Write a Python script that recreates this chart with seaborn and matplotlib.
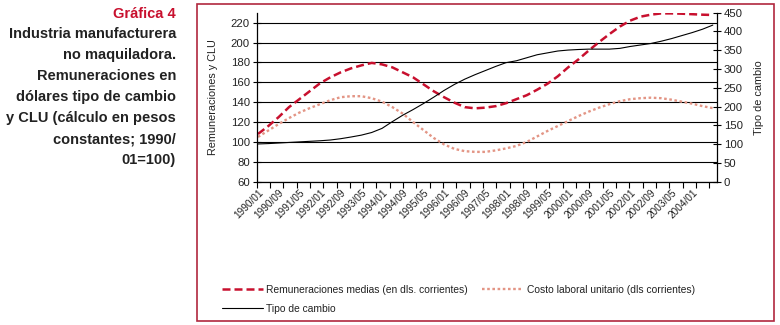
import numpy as np
import pandas as pd
import matplotlib
matplotlib.use("Agg")
import matplotlib.pyplot as plt
import seaborn as sns
from matplotlib.patches import Rectangle
from matplotlib.lines import Line2D

sns.set_theme(style="white")
plt.rcParams["font.family"] = ["Liberation Sans", "DejaVu Sans"]

# ---- data (every 4 months, 1990/01 .. 2004/09) ----
periodos = pd.period_range("1990-01", periods=45, freq="4M")
remuneraciones = [108, 116, 125, 135, 143, 151, 159, 165, 170, 174, 177, 179.5,
                  178, 175, 170, 165, 158, 151, 145, 139.5, 135, 133.8, 134.5, 136,
                  139, 143, 147, 152.5, 158.5, 166, 175, 183, 192, 200.5, 208.5, 216,
                  222, 226, 228, 229.3, 229.3, 229, 228.5, 228, 227.7]
clu = [105, 111.5, 118, 124, 129.5, 134, 138, 142, 145, 146, 146, 144,
       140.5, 135, 128.5, 120, 112, 104, 97.5, 93, 90.7, 90, 90, 91.5,
       93.5, 96, 100, 105.5, 111, 116, 121, 126, 130.5, 134.5, 138, 141,
       143, 144, 144.5, 144, 142.5, 140.5, 138.5, 136, 134]
tipo_cambio = [100.5, 101.5, 103, 104.5, 106, 107.5, 109, 111, 114.5, 119, 124, 131,
               142, 160, 177, 192, 208, 225, 243, 259, 273, 285, 296, 307,
               317, 322, 330, 338, 343, 348, 350.5, 352, 353, 353, 353, 355,
               360, 364, 368, 374, 381, 389, 397, 406, 417]
etiquetas_x = ["1990/01", "1990/09", "1991/05", "1992/01", "1992/09", "1993/05",
               "1994/01", "1994/09", "1995/05", "1996/01", "1996/09", "1997/05",
               "1998/01", "1998/09", "1999/05", "2000/01", "2000/09", "2001/05",
               "2002/01", "2002/09", "2003/05", "2004/01"]

mes = [(p.year - 1990) * 12 + p.month - 1 for p in periodos]
df = pd.DataFrame({"mes": mes, "rem": remuneraciones, "clu": clu, "tc": tipo_cambio})

RED = "#C8102E"
CLU_C = "#E39585"
BORDER = "#B0283E"

W, H = 780, 325
fig = plt.figure(figsize=(W / 100, H / 100), dpi=100)

# border
fig.patches.append(Rectangle((197 / W, 1 - 321 / H), (774 - 197) / W, (321 - 4) / H,
                             transform=fig.transFigure, fill=False,
                             edgecolor=BORDER, lw=1.2))

ax = fig.add_axes([256.7 / W, 1 - 181.7 / H, 460 / W, 169 / H])
sns.lineplot(data=df, x="mes", y="rem", ax=ax, color=RED, lw=1.8,
             linestyle=(0, (3.2, 1.6)))
sns.lineplot(data=df, x="mes", y="clu", ax=ax, color=CLU_C, lw=1.7,
             linestyle=(0, (1.1, 1.1)))
ax.set_xlim(-0.5, 177.5)
ax.set_ylim(60, 230)
ax.set_yticks(range(60, 221, 20))
ax.yaxis.grid(True, color="black", lw=0.8)
ax.xaxis.grid(False)
ax.set_axisbelow(True)

ax2 = ax.twinx()
sns.lineplot(data=df, x="mes", y="tc", ax=ax2, color="black", lw=0.8)
ax2.set_ylim(0, 450)
ax2.set_yticks(range(0, 451, 50))
ax2.set_xlim(-0.5, 177.5)

# x ticks
pos = [(int(s[:4]) - 1990) * 12 + int(s[5:]) - 1 for s in etiquetas_x]
ax.set_xticks(pos)
ax.set_xticklabels(etiquetas_x, rotation=45, ha="right", rotation_mode="anchor",
                   fontsize=7.2, color="#222222")
ax.set_xticks(np.arange(-0.5, 178, 5.15), minor=True)
ax.tick_params(axis="x", which="major", length=0, pad=4)
ax.tick_params(axis="x", which="minor", length=4, width=0.8, direction="out",
               color="black", bottom=True)
ax.tick_params(axis="y", which="major", length=6, width=0.8, direction="inout",
               labelsize=8.2, color="black", left=True, labelcolor="#222222", pad=2)
ax2.tick_params(axis="y", which="major", length=6, width=0.8, direction="inout",
                labelsize=8.2, color="black", right=True, labelcolor="#222222", pad=2)

for a in (ax, ax2):
    a.spines["top"].set_visible(False)
    for s in ("left", "right", "bottom"):
        a.spines[s].set_color("black")
        a.spines[s].set_linewidth(0.9)
ax.spines["right"].set_visible(False)
ax2.spines["left"].set_visible(False)
ax2.spines["bottom"].set_visible(False)

ax.set_xlabel("")
ax.set_ylabel("Remuneraciones y CLU", fontsize=7.8, color="#222222", labelpad=9)
ax2.set_ylabel("Tipo de cambio", fontsize=7.8, color="#222222", labelpad=8)
ax2.set_xlabel("")

# legend
handles = [
    Line2D([], [], color=RED, lw=1.8, linestyle=(0, (3.2, 1.6))),
    Line2D([], [], color="black", lw=0.8),
    Line2D([], [], color=CLU_C, lw=1.7, linestyle=(0, (1.1, 1.1))),
]
labels = ["Remuneraciones medias (en dls. corrientes)", "Tipo de cambio",
          "Costo laboral unitario (dls corrientes)"]
fig.legend(handles, labels, ncol=2, loc="upper left",
           bbox_to_anchor=(222 / W, 1 - 285 / H), frameon=False, fontsize=7.4,
           handlelength=4.0, handletextpad=0.3, columnspacing=1.4,
           labelspacing=0.85, borderpad=0, borderaxespad=0, labelcolor="#222222")

# left title block
fig.text(176 / W, 1 - 14 / H, "Gráfica 4", ha="right", va="center",
         fontsize=10.5, weight="bold", color=RED)
lines = ["Industria manufacturera", "no maquiladora.", "Remuneraciones en",
         "dólares tipo de cambio", "y CLU (cálculo en pesos", "constantes; 1990/",
         "01=100)"]
for i, t in enumerate(lines):
    fig.text(176 / W, 1 - (34 + 21 * i) / H, t, ha="right", va="center",
             fontsize=10.5, weight="bold", color="#222222")

fig.savefig("out.png", dpi=100)
